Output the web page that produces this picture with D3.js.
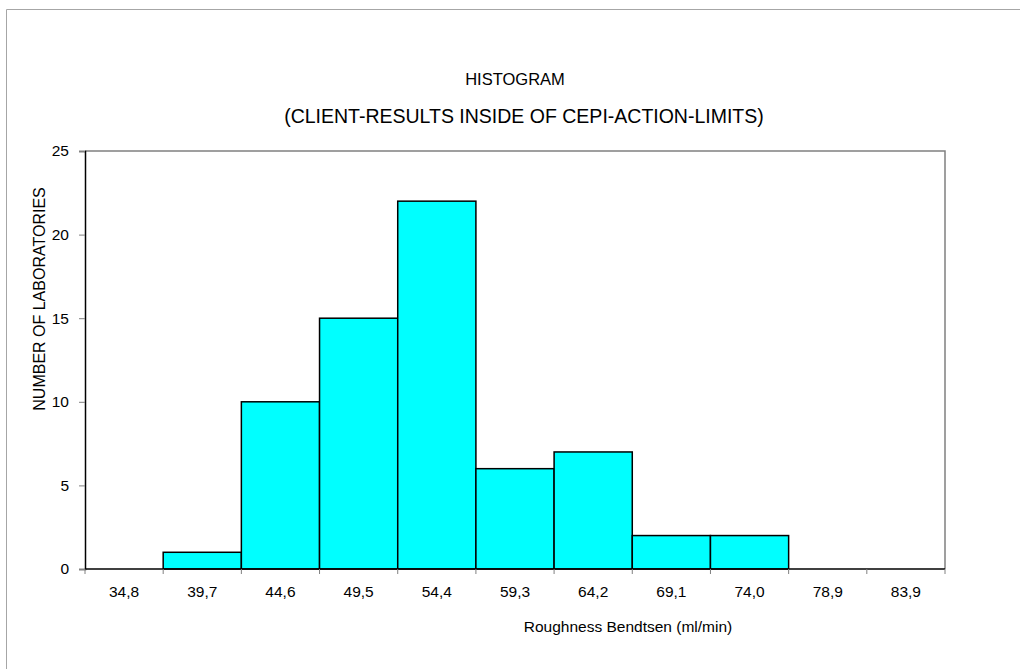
<!DOCTYPE html>
<html>
<head>
<meta charset="utf-8">
<script src="https://cdn.jsdelivr.net/npm/d3@7"></script>
<style>
  body { margin: 0; background: #fff; }
  svg text { font-family: "Liberation Sans", Arial, sans-serif; fill: #000; }
</style>
</head>
<body>
<script>
// histogram classes and counts
var categories = ["34,8", "39,7", "44,6", "49,5", "54,4", "59,3", "64,2", "69,1", "74,0", "78,9", "83,9"];
var counts = [0, 1, 10, 15, 22, 6, 7, 2, 2, 0, 0];
var yTicks = [0, 5, 10, 15, 20, 25];

var width = 1020, height = 669;
var margin = {left: 85, right: 75, top: 151, bottom: 100};

var svg = d3.select('body').append('svg')
    .attr('width', width).attr('height', height);

// outer frame (only top & left are visible in the picture)
svg.append('line').attr('x1', 6.5).attr('x2', width).attr('y1', 9.5).attr('y2', 9.5)
    .attr('stroke', '#a6a6a6').attr('stroke-width', 1);
svg.append('line').attr('x1', 6.5).attr('x2', 6.5).attr('y1', 9.5).attr('y2', height)
    .attr('stroke', '#a6a6a6').attr('stroke-width', 1);

var x = d3.scaleBand()
    .domain(categories)
    .range([margin.left, width - margin.right])
    .padding(0);

var y = d3.scaleLinear()
    .domain([0, 25])
    .range([height - margin.bottom, margin.top]);

// plot area border (top and right in gray)
svg.append('path')
    .attr('d', 'M' + margin.left + ',' + y(25) + 'H' + (width - margin.right) + 'V' + y(0))
    .attr('fill', 'none').attr('stroke', '#808080').attr('stroke-width', 1.5);

// bars
svg.append('g').selectAll('rect')
    .data(counts)
    .enter().append('rect')
    .attr('x', function(d, i) { return x(categories[i]); })
    .attr('y', function(d) { return y(d); })
    .attr('width', x.bandwidth())
    .attr('height', function(d) { return y(0) - y(d); })
    .attr('fill', '#00ffff')
    .attr('stroke', '#000')
    .attr('stroke-width', 1.5)
    .attr('display', function(d) { return d > 0 ? null : 'none'; });

// y axis
var yAxis = svg.append('g')
    .attr('transform', 'translate(' + margin.left + ',0)')
    .call(d3.axisLeft(y).tickValues(yTicks).tickSize(6).tickPadding(10));
yAxis.select('.domain').attr('stroke', '#000').attr('stroke-width', 1.5);
yAxis.selectAll('.tick line').attr('stroke', '#808080');
yAxis.selectAll('.tick text').style('font-size', '15.5px');

// x axis: ticks on band boundaries, labels at band centers
var xAxis = svg.append('g')
    .attr('transform', 'translate(0,' + y(0) + ')');
xAxis.append('line')
    .attr('x1', margin.left).attr('x2', width - margin.right)
    .attr('stroke', '#000').attr('stroke-width', 1.5);
xAxis.selectAll('.bt')
    .data(d3.range(categories.length + 1))
    .enter().append('line')
    .attr('x1', function(i) { return margin.left + i * x.bandwidth(); })
    .attr('x2', function(i) { return margin.left + i * x.bandwidth(); })
    .attr('y1', 0).attr('y2', 5)
    .attr('stroke', '#808080');
xAxis.selectAll('text')
    .data(categories)
    .enter().append('text')
    .attr('x', function(d) { return x(d) + x.bandwidth() / 2; })
    .attr('y', 28)
    .attr('text-anchor', 'middle')
    .style('font-size', '15.5px')
    .text(function(d) { return d; });

// titles
svg.append('text').attr('x', 515).attr('y', 85)
    .attr('text-anchor', 'middle').style('font-size', '16.5px')
    .text('HISTOGRAM');
svg.append('text').attr('x', 524).attr('y', 123)
    .attr('text-anchor', 'middle').style('font-size', '19.5px')
    .text('(CLIENT-RESULTS INSIDE OF CEPI-ACTION-LIMITS)');

svg.append('text')
    .attr('transform', 'translate(45,' + 299 + ') rotate(-90)')
    .attr('text-anchor', 'middle').style('font-size', '16px')
    .text('NUMBER OF LABORATORIES');

svg.append('text').attr('x', 628).attr('y', 632)
    .attr('text-anchor', 'middle').style('font-size', '15.5px')
    .text('Roughness Bendtsen (ml/min)');
</script>
</body>
</html>
